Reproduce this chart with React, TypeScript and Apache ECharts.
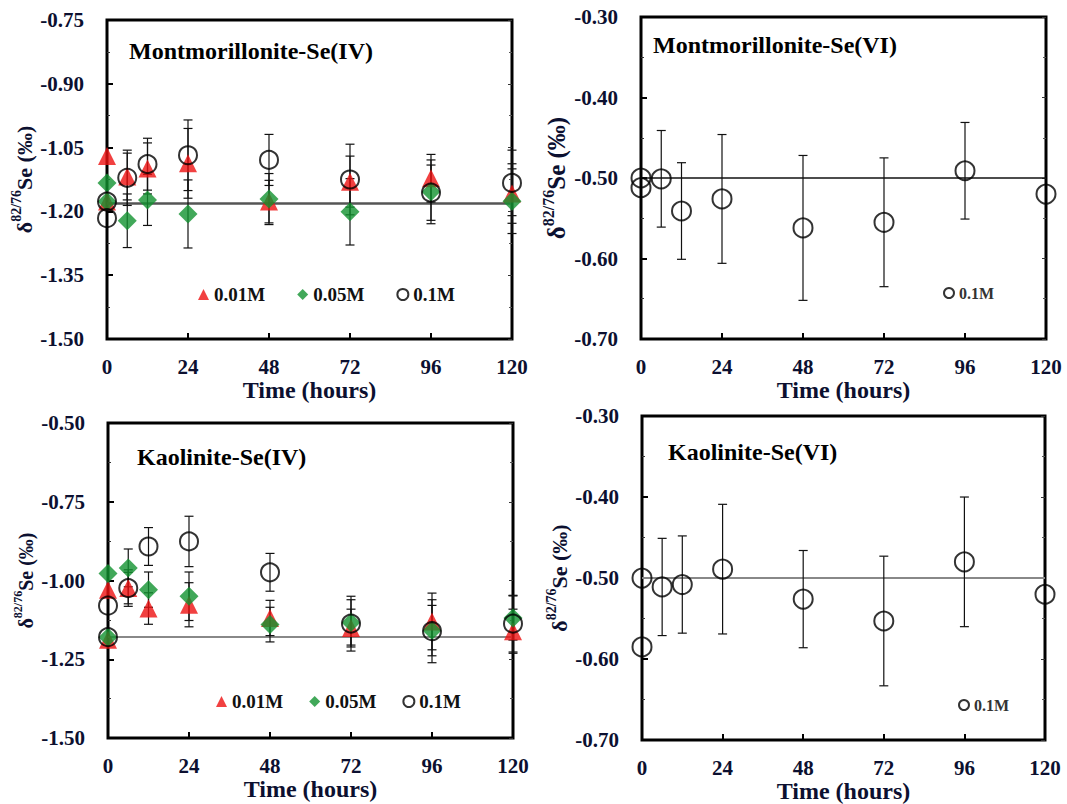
import React, { useEffect, useRef } from "react";
import * as echarts from "echarts";

// ---------- data ----------
const HOURS = [0, 0, 6, 12, 24, 48, 72, 96, 120];

// Montmorillonite-Se(IV)
const MS4_001 = [-1.07, -1.177, -1.118, -1.099, -1.087, -1.177, -1.13, -1.122, -1.158];
const MS4_001_ERR = [0, 0, 0.055, 0.06, 0.082, 0.05, 0.06, 0.056, 0.07];
const MS4_005 = [-1.133, -1.177, -1.222, -1.173, -1.206, -1.171, -1.201, -1.154, -1.176];
const MS4_005_ERR = [0, 0, 0.063, 0.06, 0.08, 0.06, 0.078, 0.075, 0.076];
const MS4_01 = [-1.177, -1.216, -1.121, -1.089, -1.068, -1.079, -1.125, -1.156, -1.133];
const MS4_01_ERR = [0, 0, 0.065, 0.061, 0.083, 0.06, 0.083, 0.065, 0.077];

// Montmorillonite-Se(VI)
const MS6_01 = [-0.5, -0.512, -0.501, -0.541, -0.526, -0.562, -0.555, -0.491, -0.52];
const MS6_01_ERR = [0, 0, 0.06, 0.06, 0.08, 0.09, 0.08, 0.06, 0];

// Kaolinite-Se(IV)
const KS4_001 = [-1.029, -1.188, -1.024, -1.089, -1.077, -1.119, -1.151, -1.13, -1.161];
const KS4_001_ERR = [0, 0, 0.05, 0.05, 0.07, 0.056, 0.06, 0.09, 0.07];
const KS4_005 = [-0.978, -1.18, -0.96, -1.029, -1.05, -1.14, -1.133, -1.159, -1.119];
const KS4_005_ERR = [0, 0, 0.06, 0.056, 0.077, 0.055, 0.072, 0.08, 0.07];
const KS4_01 = [-1.08, -1.18, -1.024, -0.892, -0.876, -0.974, -1.137, -1.161, -1.137];
const KS4_01_ERR = [0, 0, 0.058, 0.06, 0.08, 0.06, 0.087, 0.1, 0.09];

// Kaolinite-Se(VI)
const KS6_01 = [-0.5, -0.585, -0.511, -0.508, -0.489, -0.526, -0.553, -0.48, -0.52];
const KS6_01_ERR = [0, 0, 0.06, 0.06, 0.08, 0.06, 0.08, 0.08, 0];

const BASELINES = [-1.18, -0.5, -1.18, -0.5];
const TITLES = [
  "Montmorillonite-Se(IV)",
  "Montmorillonite-Se(VI)",
  "Kaolinite-Se(IV)",
  "Kaolinite-Se(VI)",
];
const Y_RANGES = [
  [-1.5, -0.75, 0.15],
  [-0.7, -0.3, 0.1],
  [-1.5, -0.5, 0.25],
  [-0.7, -0.3, 0.1],
];
const SERIES_NAMES = ["0.01M", "0.05M", "0.1M"];

// ---------- style ----------
const FONT = '"Liberation Serif", "Times New Roman", serif';
const INK = "#0c1030";

const GRIDS = [
  { left: 107, top: 20, width: 405, height: 319 },
  { left: 641, top: 17, width: 405, height: 322 },
  { left: 108, top: 423, width: 405, height: 315 },
  { left: 642, top: 416, width: 403, height: 327 },
];

function pts(values: number[], errs?: number[]) {
  return values.map((v, i) => (errs ? [HOURS[i], v, errs[i]] : [HOURS[i], v]));
}

function errorBars(values: number[], errs: number[], g: number, cap = 4.5) {
  return {
    type: "custom",
    name: "err",
    xAxisIndex: g,
    yAxisIndex: g * 2,
    z: 1,
    silent: true,
    encode: { x: 0, y: 1 },
    data: pts(values, errs),
    renderItem: (_p: any, api: any) => {
      const x = api.value(0);
      const y = api.value(1);
      const e = api.value(2);
      if (!e) return { type: "group", children: [] };
      const t = api.coord([x, y + e]);
      const b = api.coord([x, y - e]);
      const st = { stroke: "#111", lineWidth: 1.2 };
      return {
        type: "group",
        children: [
          { type: "line", shape: { x1: t[0], y1: t[1], x2: b[0], y2: b[1] }, style: st },
          { type: "line", shape: { x1: t[0] - cap, y1: t[1], x2: t[0] + cap, y2: t[1] }, style: st },
          { type: "line", shape: { x1: b[0] - cap, y1: b[1], x2: b[0] + cap, y2: b[1] }, style: st },
        ],
      };
    },
  };
}

function scatter(name: string, values: number[], g: number, kind: number, size: number, baseline?: { v: number; color: string; width: number }) {
  const s: any = {
    type: "scatter",
    name,
    xAxisIndex: g,
    yAxisIndex: g * 2,
    data: pts(values),
    symbolSize: size,
    z: 2 + kind,
  };
  if (kind === 0) {
    s.symbol = "triangle";
    s.itemStyle = { color: "#ee1111" };
  } else if (kind === 1) {
    s.symbol = "diamond";
    s.itemStyle = { color: "#12922f" };
  } else {
    s.symbol = "circle";
    s.itemStyle = { color: "rgba(0,0,0,0)", borderColor: "#000", borderWidth: 2 };
  }
  if (baseline) {
    s.markLine = {
      silent: true,
      symbol: "none",
      label: { show: false },
      lineStyle: { color: baseline.color, width: baseline.width, type: "solid" },
      data: [{ yAxis: baseline.v }],
      z: 1,
    };
  }
  return s;
}

export default function App() {
  const ref = useRef<HTMLDivElement>(null);
  useEffect(() => {
    if (!ref.current) return;
    const chart = echarts.init(ref.current, null, { renderer: "svg" });

    const labelStyle = { fontFamily: FONT, fontWeight: "bold" as const, color: INK };
    const nameSizes = [22, 25, 20, 22];

    const xAxis = GRIDS.map((_, g) => ({
      type: "value",
      gridIndex: g,
      min: 0,
      max: 120,
      interval: 24,
      axisLine: { show: false },
      axisTick: { inside: true, length: 6, lineStyle: { color: "#000", width: 2 } },
      splitLine: { show: false },
      axisLabel: { ...labelStyle, fontSize: 21, margin: 17 },
      name: "Time (hours)",
      nameLocation: "middle",
      nameGap: 38,
      nameTextStyle: { ...labelStyle, fontSize: 24 },
    }));

    const yAxis: any[] = [];
    GRIDS.forEach((_, g) => {
      const [mn, mx, iv] = Y_RANGES[g];
      const fs = nameSizes[g];
      yAxis.push({
        type: "value",
        gridIndex: g,
        position: "left",
        min: mn,
        max: mx,
        interval: iv,
        axisLine: { show: false },
        axisTick: { inside: true, length: 6, lineStyle: { color: "#000", width: 2 } },
        minorTick: { show: true, splitNumber: 2, length: 3, lineStyle: { color: "#333", width: 1 } },
        splitLine: { show: false },
        axisLabel: {
          ...labelStyle,
          fontSize: 21,
          margin: 23,
          formatter: (v: number) => v.toFixed(2),
        },
        name: "{d|δ}{s|82/76}{d|Se (‰)}",
        nameLocation: "middle",
        nameRotate: 90,
        nameGap: 68,
        nameTextStyle: {
          rich: {
            d: { ...labelStyle, fontSize: fs, lineHeight: fs + 8 },
            s: { ...labelStyle, fontSize: Math.round(fs * 0.62), verticalAlign: "top" },
          },
        },
      });
      yAxis.push({
        type: "value",
        gridIndex: g,
        position: "right",
        min: mn,
        max: mx,
        interval: iv,
        axisLine: { show: false },
        axisTick: { inside: true, length: 4, lineStyle: { color: "#333", width: 1 } },
        minorTick: { show: true, splitNumber: 2, length: 3, lineStyle: { color: "#555", width: 1 } },
        splitLine: { show: false },
        axisLabel: { show: false },
      });
    });

    const series: any[] = [
      // panel 0
      errorBars(MS4_001, MS4_001_ERR, 0),
      errorBars(MS4_005, MS4_005_ERR, 0),
      errorBars(MS4_01, MS4_01_ERR, 0),
      scatter(SERIES_NAMES[0], MS4_001, 0, 0, 18, { v: BASELINES[0], color: "#555", width: 2.5 }),
      scatter(SERIES_NAMES[1], MS4_005, 0, 1, 19),
      scatter(SERIES_NAMES[2], MS4_01, 0, 2, 18),
      // panel 1
      errorBars(MS6_01, MS6_01_ERR, 1),
      scatter(SERIES_NAMES[2], MS6_01, 1, 2, 19, { v: BASELINES[1], color: "#111", width: 1.5 }),
      // panel 2
      errorBars(KS4_001, KS4_001_ERR, 2),
      errorBars(KS4_005, KS4_005_ERR, 2),
      errorBars(KS4_01, KS4_01_ERR, 2),
      scatter(SERIES_NAMES[0], KS4_001, 2, 0, 18, { v: BASELINES[2], color: "#888", width: 2 }),
      scatter(SERIES_NAMES[1], KS4_005, 2, 1, 19),
      scatter(SERIES_NAMES[2], KS4_01, 2, 2, 18),
      // panel 3
      errorBars(KS6_01, KS6_01_ERR, 3),
      scatter(SERIES_NAMES[2], KS6_01, 3, 2, 19, { v: BASELINES[3], color: "#888", width: 2 }),
    ];

    const legendBase = {
      orient: "horizontal",
      padding: 0,
      itemWidth: 11,
      itemHeight: 11,
      selectedMode: false,
      textStyle: { fontFamily: FONT, fontWeight: "bold", fontSize: 19, color: "#111" },
    };

    chart.setOption({
      animation: false,
      backgroundColor: "#ffffff",
      title: TITLES.map((t, i) => ({
        text: t,
        left: [129, 653, 137, 668][i],
        top: [39, 33, 445, 440][i],
        padding: 0,
        textStyle: { fontFamily: FONT, fontWeight: "bold", fontSize: 24, color: "#000" },
      })),
      legend: [
        { ...legendBase, left: 198, top: 285, itemGap: 32, data: SERIES_NAMES },
        {
          ...legendBase,
          left: 943,
          top: 285,
          itemWidth: 10,
          itemHeight: 10,
          data: [SERIES_NAMES[2]],
          textStyle: { fontFamily: FONT, fontWeight: "bold", fontSize: 16, color: "#333" },
        },
        { ...legendBase, left: 216, top: 692, itemGap: 26, data: SERIES_NAMES },
        {
          ...legendBase,
          left: 958,
          top: 697,
          itemWidth: 10,
          itemHeight: 10,
          data: [SERIES_NAMES[2]],
          textStyle: { fontFamily: FONT, fontWeight: "bold", fontSize: 16, color: "#333" },
        },
      ],
      grid: GRIDS.map((g) => ({
        ...g,
        show: true,
        borderColor: "#000",
        borderWidth: 3,
        backgroundColor: "transparent",
        containLabel: false,
      })),
      xAxis,
      yAxis,
      series,
    });

    return () => chart.dispose();
  }, []);

  return (
    <div
      ref={ref}
      style={{ position: "fixed", left: 0, top: 0, width: 1067, height: 804, background: "#fff" }}
    />
  );
}
